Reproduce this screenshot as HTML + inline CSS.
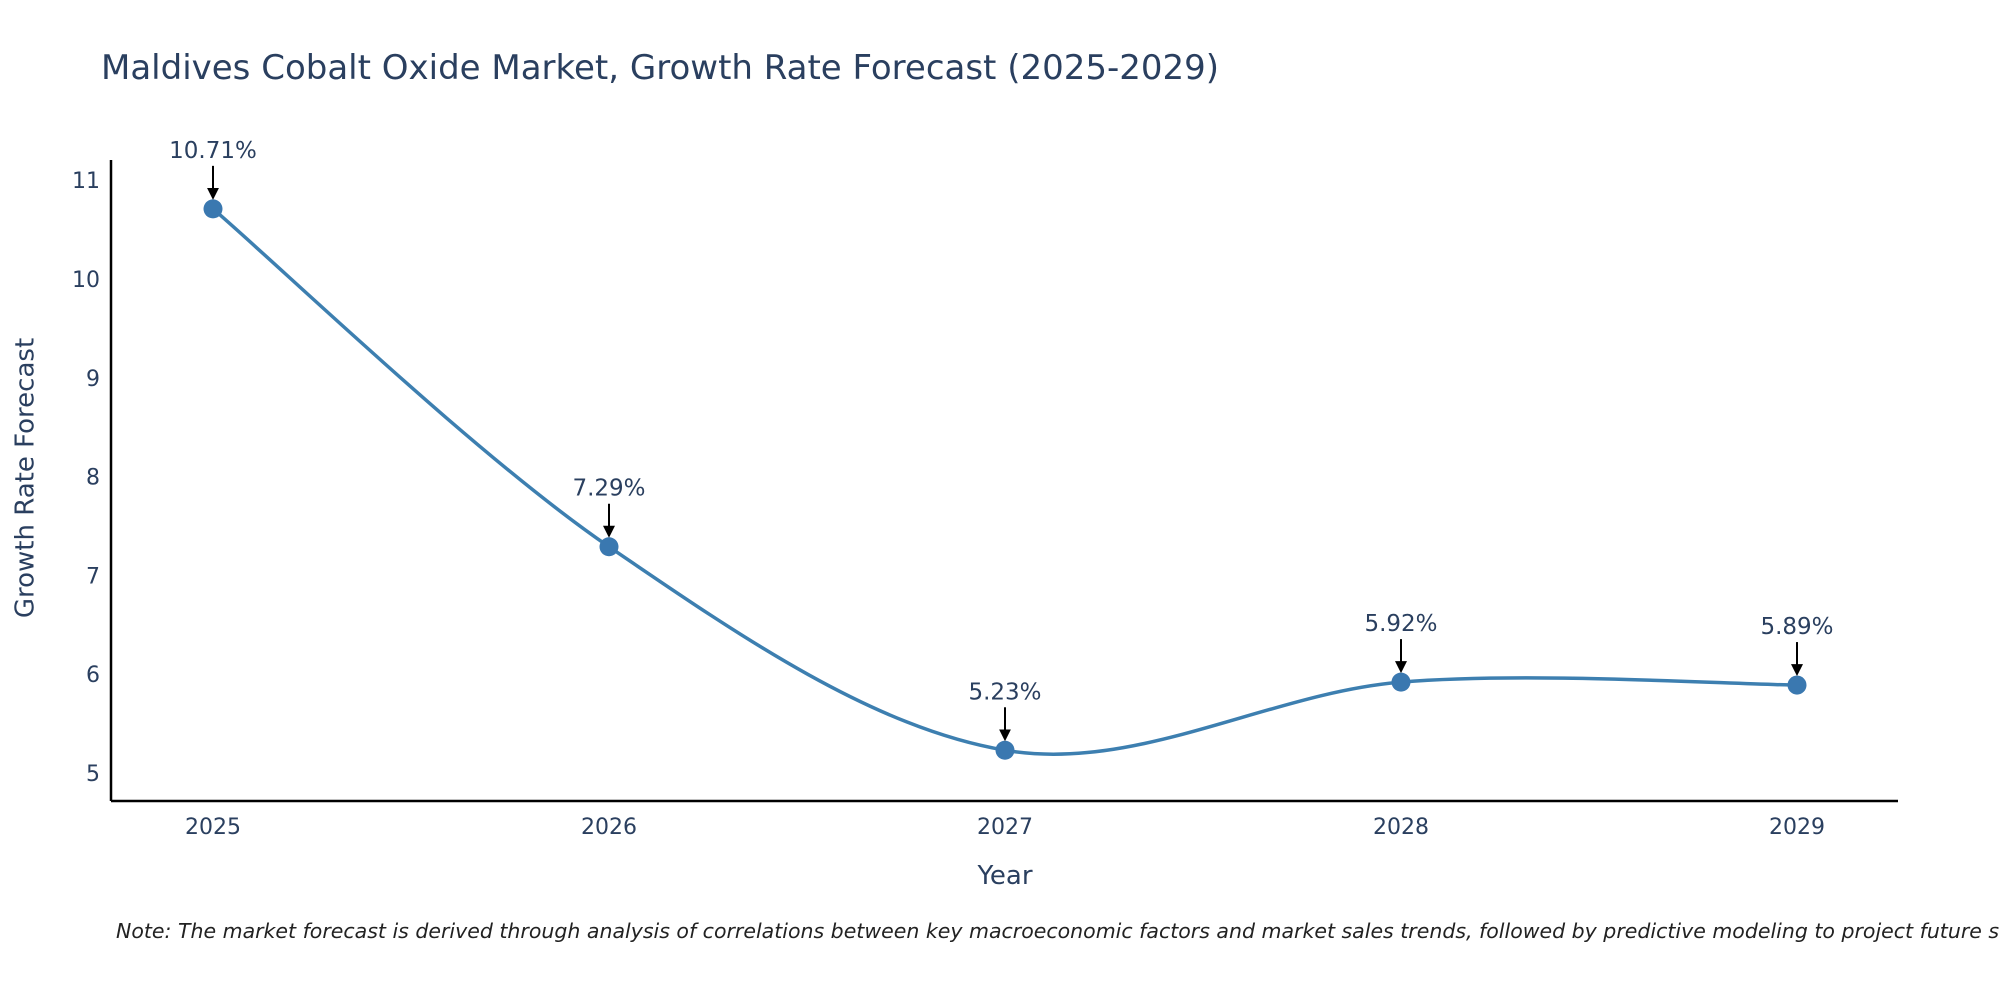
<!DOCTYPE html>
<html><head><meta charset="utf-8"><style>
body{margin:0;background:#fff;}
svg{display:block;font-family:"DejaVu Sans","Liberation Sans",sans-serif;}
</style></head><body>
<svg id="chart" width="2000" height="1000">
<text x="101" y="79" font-size="34" fill="#2a3f5f">Maldives Cobalt Oxide Market, Growth Rate Forecast (2025-2029)</text>
<g id="axes"></g>
<g id="plot"></g>
<text x="26" y="478" font-size="26" fill="#2a3f5f" text-anchor="middle" transform="rotate(-90 26 478)" dominant-baseline="middle">Growth Rate Forecast</text>
<text x="1005" y="884" font-size="26" fill="#2a3f5f" text-anchor="middle">Year</text>
<text x="116" y="938" font-size="20.5" font-style="italic" fill="#222">Note: The market forecast is derived through analysis of correlations between key macroeconomic factors and market sales trends, followed by predictive modeling to project future sales.</text>
</svg>
<script>
const categories=["2025","2026","2027","2028","2029"];
const values=[10.71,7.29,5.23,5.92,5.89];
const labels=["10.71%","7.29%","5.23%","5.92%","5.89%"];
const yTicks=[5,6,7,8,9,10,11];
const NS="http://www.w3.org/2000/svg";
const X0=111,X1=1898,Y0=801,Y1=160;
function xs(i){return 213+i*396;}
function ys(v){return 773-(v-5)*98.8;}
function mk(t,a,p){const e=document.createElementNS(NS,t);for(const k in a)e.setAttribute(k,a[k]);p.appendChild(e);return e;}
const ax=document.getElementById('axes'),pl=document.getElementById('plot');
const xl=mk('line',{x1:X0,y1:Y0,x2:X1,y2:Y0,stroke:'#000','stroke-width':2.5},ax);


const yl=mk('line',{x1:X0,y1:Y0,x2:X0,y2:Y1,stroke:'#000','stroke-width':2.5},ax);


yTicks.forEach(v=>{const t=mk('text',{x:100,y:ys(v)+8,'font-size':22,fill:'#2a3f5f','text-anchor':'end'},ax);t.textContent=v;

});
categories.forEach((c,i)=>{const t=mk('text',{x:xs(i),y:834,'font-size':22,fill:'#2a3f5f','text-anchor':'middle'},ax);t.textContent=c;

});
const P=values.map((v,i)=>[xs(i),ys(v)]);
let d=`M${P[0][0]},${P[0][1]}`;
for(let i=0;i<P.length-1;i++){const p0=P[Math.max(i-1,0)],p1=P[i],p2=P[i+1],p3=P[Math.min(i+2,P.length-1)];const k=1/6;
d+=` C${p1[0]+(p2[0]-p0[0])*k},${p1[1]+(p2[1]-p0[1])*k} ${p2[0]-(p3[0]-p1[0])*k},${p2[1]-(p3[1]-p1[1])*k} ${p2[0]},${p2[1]}`;}
const ln=mk('path',{d:d,fill:'none',stroke:'#3d7fb0','stroke-width':3.5},pl);


mk('defs',{},pl).innerHTML='<marker id="ah" markerWidth="6" markerHeight="6" refX="5" refY="3" orient="auto"><path d="M0,0 L6,3 L0,6z" fill="#000"/></marker>';
P.forEach((p,i)=>{const c=mk('circle',{cx:p[0],cy:p[1],r:9.5,fill:'#3a78b0'},pl);


const a=mk('line',{x1:p[0],y1:p[1]-43,x2:p[0],y2:p[1]-11,stroke:'#000','stroke-width':2,'marker-end':'url(#ah)'},pl);


const t=mk('text',{x:p[0],y:p[1]-51,'font-size':23,fill:'#2a3f5f','text-anchor':'middle'},pl);t.textContent=labels[i];

});
</script>
</body></html>
